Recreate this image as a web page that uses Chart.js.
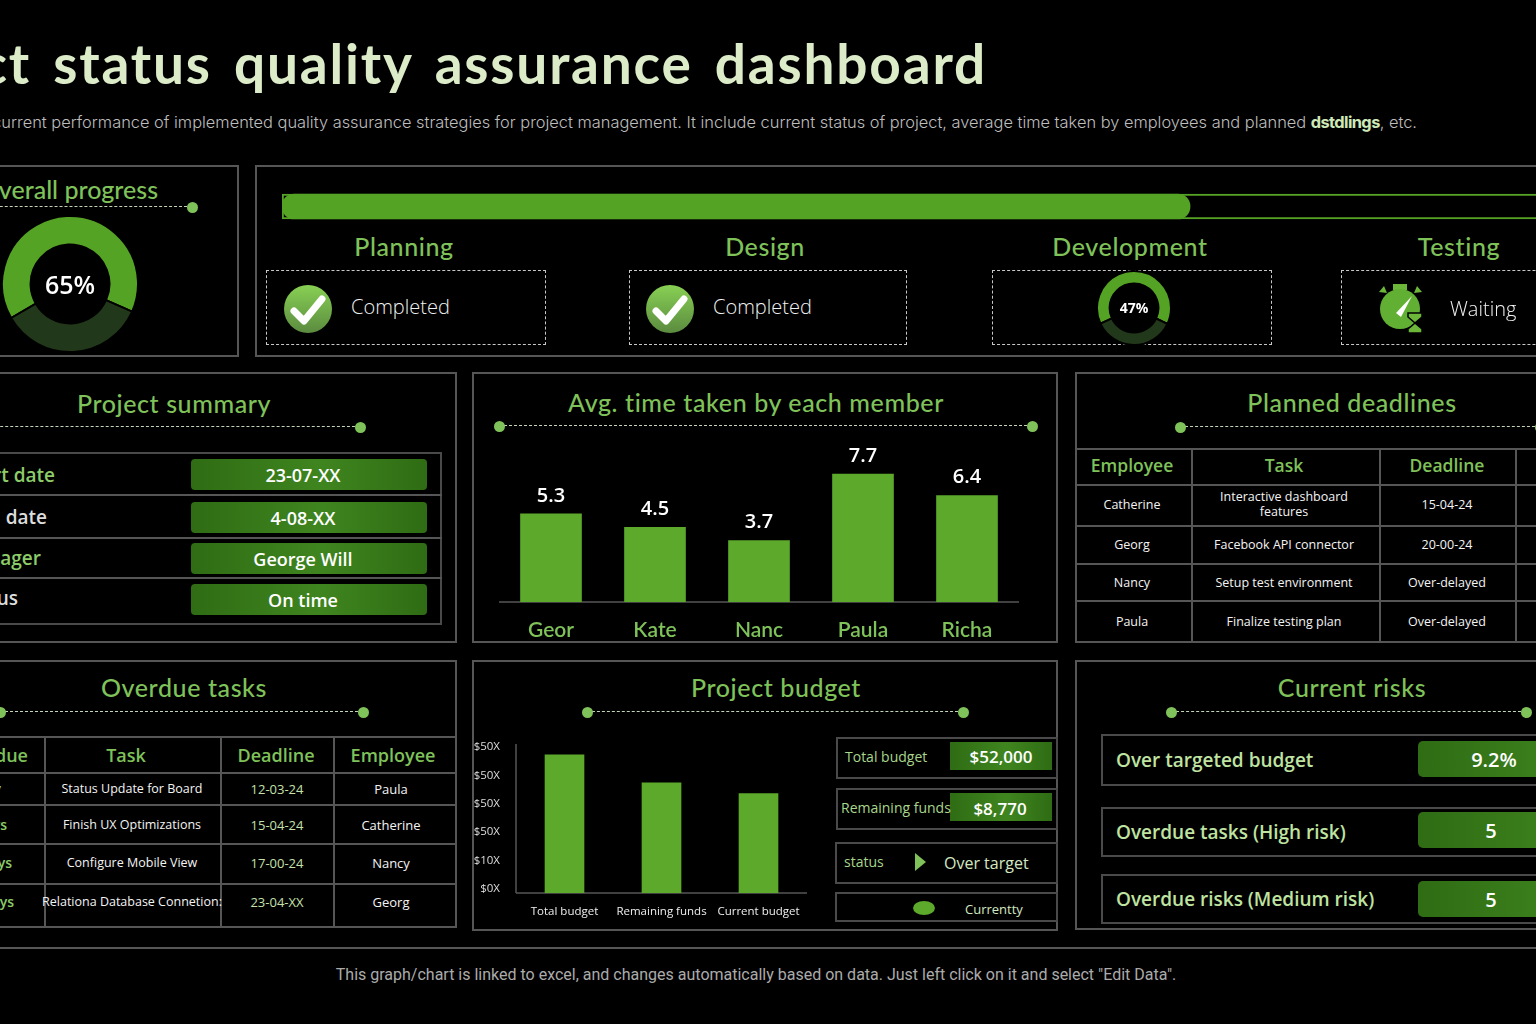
<!DOCTYPE html>
<html>
<head>
<meta charset="utf-8">
<title>Project status quality assurance dashboard</title>
<script src="https://cdn.jsdelivr.net/npm/chart.js@4/dist/chart.umd.js"></script>
<style>
    html, body { margin: 0; padding: 0; background: #000; }
    #page { position: relative; width: 1536px; height: 1024px; overflow: hidden; background: #000; font-family: "Open Sans", sans-serif; }
    #page div, #page svg, #page canvas { position: absolute; }
    .panel { border: 2px solid #565656; box-sizing: border-box; }
    .thin { border: 2px solid #4a4a4a; box-sizing: border-box; }
    .dash { border: 1.5px dashed #c8c8c8; box-sizing: border-box; }
    .label { white-space: nowrap; line-height: 1; }
    .pill { background: linear-gradient(90deg, #2f6c14, #3f851f 55%, #2f6c14); }
</style>
</head>
<body>
<div id="page"></div>
<script>
// chart values
const overallArc = [65, 35];
const developmentArc = [64, 36];
const progressValue = [65];
const progressTrack = [100];
const memberNames = ['Geor', 'Kate', 'Nanc', 'Paula', 'Richa'];
const memberTimes = [5.3, 4.5, 3.7, 7.7, 6.4];
const budgetNames = ['Total budget', 'Remaining funds', 'Current budget'];
const budgetValues = [48.6, 38.8, 35.0];
const budgetTicks = ['$0X', '$10X', '$50X', '$50X', '$50X', '$50X'];

// table text
const summaryLabels = ['Start date', 'End date', 'Manager', 'Status'];
const summaryValues = ['23-07-XX', '4-08-XX', 'George Will', 'On time'];
const deadlineHeaders = ['Employee', 'Task', 'Deadline'];
const deadlineRows = [
    ['Catherine', 'Interactive dashboard<br>features', '15-04-24'],
    ['Georg', 'Facebook API connector', '20-00-24'],
    ['Nancy', 'Setup test environment', 'Over-delayed'],
    ['Paula', 'Finalize testing plan', 'Over-delayed'],
];
const overdueHeaders = ['Days overdue', 'Task', 'Deadline', 'Employee'];
const overdueDays = ['1 day', '2 days', '3 days', '4 days'];
const overdueRows = [
    ['Status Update for Board', '12-03-24', 'Paula'],
    ['Finish UX Optimizations', '15-04-24', 'Catherine'],
    ['Configure Mobile View', '17-00-24', 'Nancy'],
    ['Relationa Database Connetion:', '23-04-XX', 'Georg'],
];
const riskLabels = ['Over targeted budget', 'Overdue tasks (High risk)', 'Overdue risks (Medium risk)'];
const riskValues = ['9.2%', '5', '5'];

const GREEN = '#7fc25a';
const BAR = '#5ca92b';
const HEAD = 'Lato, sans-serif';
const page = document.getElementById('page');

function box(cls, x, y, w, h, style) {
    const el = document.createElement('div');
    el.className = cls;
    el.style.cssText = `left:${x}px;top:${y}px;width:${w}px;height:${h}px;` + (style || '');
    page.appendChild(el);
    return el;
}

// x is the left, centre or right edge according to anchor, y is the vertical middle
function label(str, x, y, anchor, size, color, weight, font) {
    const el = document.createElement('div');
    el.className = 'label';
    const shift = { l: '0', c: '-50%', r: '-100%' }[anchor];
    el.style.cssText = `left:${x}px;top:${y}px;transform:translate(${shift},-50%);font-size:${size}px;color:${color};`
        + `font-weight:${weight || 400};font-family:${font || '"Open Sans", sans-serif'};`;
    el.innerHTML = str;
    page.appendChild(el);
    return el;
}

function heading(str, cx, y) {
    label(str, cx, y, 'c', 25, GREEN, 500, HEAD).style.letterSpacing = '0.6px';
}

function dotted(x1, x2, y) {
    box('', x1, y - 1, x2 - x1, 0, 'border-top:1.5px dashed #c4d4b8;');
    box('', x1 - 5.5, y - 5.5, 11, 11, `border-radius:50%;background:${GREEN};`);
    box('', x2 - 5.5, y - 5.5, 11, 11, `border-radius:50%;background:${GREEN};`);
}

function line(x, y, w, h) {
    box('', x, y, w, h, 'background:#565656;');
}

function canvasAt(x, y, w, h) {
    const c = document.createElement('canvas');
    c.width = w;
    c.height = h;
    c.style.cssText = `left:${x}px;top:${y}px;width:${w}px;height:${h}px;`;
    page.appendChild(c);
    return c;
}

function svgAt(x, y, w, h, inner) {
    const wrap = document.createElement('div');
    wrap.style.cssText = `left:${x}px;top:${y}px;width:${w}px;height:${h}px;`;
    wrap.innerHTML = `<svg width="${w}" height="${h}" viewBox="0 0 ${w} ${h}" style="left:0;top:0">${inner}</svg>`;
    page.appendChild(wrap);
}

Chart.defaults.animation = false;
Chart.defaults.responsive = false;
Chart.defaults.plugins.legend.display = false;
Chart.defaults.plugins.tooltip.enabled = false;

// numbers above the bars
const barValues = {
    id: 'barValues',
    afterDatasetsDraw(chart, args, opts) {
        if (!opts.show) return;
        const ctx = chart.ctx;
        ctx.save();
        ctx.fillStyle = '#fff';
        ctx.font = '600 20px "Open Sans"';
        ctx.textAlign = 'center';
        ctx.textBaseline = 'bottom';
        chart.getDatasetMeta(0).data.forEach((bar, i) => {
            ctx.fillText(chart.data.datasets[0].data[i].toFixed(1), bar.x, bar.y - 8);
        });
        ctx.restore();
    }
};

// axis lines run a bit past the plot area in the reference
const axisLines = {
    id: 'axisLines',
    beforeDatasetsDraw(chart, args, opts) {
        const { ctx, chartArea: a } = chart;
        ctx.save();
        ctx.strokeStyle = '#565656';
        ctx.lineWidth = 1.5;
        ctx.beginPath();
        ctx.moveTo(a.left - opts.left, a.bottom);
        ctx.lineTo(a.right + opts.right, a.bottom);
        if (opts.top) {
            ctx.moveTo(a.left, a.bottom);
            ctx.lineTo(a.left, a.top - opts.top);
        }
        ctx.stroke();
        ctx.restore();
    }
};

function drawDonut(x, y, size, values, cutout, rotation) {
    new Chart(canvasAt(x, y, size, size), {
        type: 'doughnut',
        data: {
            datasets: [{
                data: values,
                backgroundColor: ['#55a324', '#22381a'],
                borderColor: '#000',
                borderWidth: 2,
            }]
        },
        options: { cutout: cutout, rotation: rotation, layout: { padding: 0 } }
    });
}

// title and subtitle
label('Project status quality assurance dashboard', 987, 63, 'r', 55, '#dcecc8', 700, HEAD).style.cssText += 'letter-spacing:1.8px;word-spacing:7px;';
label('This slide shows current performance of implemented quality assurance strategies for project management. It include current status of project, average time taken by employees and planned <b style="color:#cfe8b8;font-weight:700;letter-spacing:-0.6px">dstdlings</b>, etc.',
    1417, 122, 'r', 16.4, '#bdbdbd', 300, 'Inter, sans-serif');

// overall progress
box('panel', -20, 165, 259, 192);
label('Overall progress', 158, 189, 'r', 25, GREEN, 500, HEAD);
dotted(-60, 192, 207);
box('', 187, 202, 0, 0);
drawDonut(1, 215, 138, overallArc, '58%', -120);
label('65%', 70, 284, 'c', 25, '#fff', 600);

// stage strip
box('panel', 255, 165, 1400, 192);
new Chart(canvasAt(282, 190, 1397, 33), {
    type: 'bar',
    data: {
        labels: ['Progress'],
        datasets: [
            { data: progressValue, backgroundColor: '#55a324', barThickness: 25, borderRadius: 12.5, borderSkipped: false, order: 0 },
            { data: progressTrack, backgroundColor: 'transparent', borderColor: '#55a324', borderWidth: 1.5, barThickness: 25, borderSkipped: false, order: 1 },
        ]
    },
    options: {
        indexAxis: 'y',
        layout: { padding: 0 },
        scales: {
            x: { display: false, min: 0, max: 100, grouped: false },
            y: { display: false, stacked: true },
        },
        datasets: { bar: { grouped: false } },
    }
});
heading('Planning', 404, 246);
heading('Design', 765, 246);
heading('Development', 1130, 246);
heading('Testing', 1459, 246);
box('dash', 266, 270, 280, 75);
box('dash', 629, 270, 278, 75);
box('dash', 992, 270, 280, 75);
box('dash', 1341, 270, 260, 75);

const check = id => `<defs><linearGradient id="${id}" x1="0" y1="0" x2="0" y2="1"><stop offset="0" stop-color="#88d054"/><stop offset="1" stop-color="#5b8b3f"/></linearGradient></defs>`
    + `<circle cx="24" cy="24" r="24" fill="url(#${id})"/><path d="M10 26 L20 36 L38 14" fill="none" stroke="#fff" stroke-width="7" stroke-linecap="round" stroke-linejoin="round"/>`;
svgAt(284, 285, 48, 48, check('c1'));
svgAt(646, 285, 48, 48, check('c2'));
label('Completed', 351, 307, 'l', 20, '#f2f2f2', 300);
label('Completed', 713, 307, 'l', 20, '#f2f2f2', 300);
drawDonut(1096, 270, 76, developmentArc, '66%', -115);
label('47%', 1134, 308, 'c', 14, '#fff', 700);
svgAt(1376, 282, 50, 52, `
    <rect x="17" y="2" width="14" height="6" fill="#6cb63a"/>
    <path d="M3 10 L8 4 L11 11 Z M46 10 L41 4 L38 11 Z" fill="#6cb63a"/>
    <circle cx="24" cy="27" r="20" fill="#62b033"/>
    <path d="M20 31 L36 14 L25 35 Z" fill="#fff"/>
    <path d="M32 31 H46 V35 L39 41 L46 47 V51 H32 V47 L39 41 L32 35 Z" fill="#6cb63a" stroke="#000" stroke-width="1.5"/>`);
label('Waiting', 1450, 309, 'l', 20, '#f2f2f2', 300);

// project summary
box('panel', -20, 372, 477, 271);
heading('Project summary', 174, 403);
dotted(-40, 360, 427);
box('thin', -20, 452, 462, 173);
const summaryRowY = [475, 517, 558, 598];
const summaryLabelEnd = [55, 47, 41, 18];
const summaryLabelColor = ['#8ccc69', '#dddddd', '#8ccc69', '#dddddd'];
const summaryPillTop = [459, 502, 543, 584];
line(-20, 494, 462, 2);
line(-20, 537, 462, 2);
line(-20, 577, 462, 2);
summaryLabels.forEach((t, i) => {
    label(t, summaryLabelEnd[i], summaryRowY[i], 'r', 19, summaryLabelColor[i], 600);
    box('pill', 191, summaryPillTop[i], 236, 31, 'border-radius:4px;');
    label(summaryValues[i], 303, summaryPillTop[i] + 16, 'c', 18, '#fff', 600);
});

// avg time chart
box('panel', 472, 372, 586, 271);
heading('Avg. time taken by each member', 756, 402);
dotted(499, 1032, 426);
new Chart(canvasAt(499, 440, 520, 200), {
    type: 'bar',
    data: {
        labels: memberNames,
        datasets: [{ data: memberTimes, backgroundColor: BAR, barThickness: 61 }]
    },
    options: {
        layout: { padding: 0 },
        plugins: {
            barValues: { show: true },
            axisLines: { left: 2, right: 13 },
        },
        scales: {
            y: { display: false, min: 0, max: 9.75, grid: { display: false } },
            x: {
                afterFit(s) { s.height = 38; },
                grid: { display: false },
                border: { display: false },
                ticks: { color: GREEN, padding: 8, maxRotation: 0, font: { family: 'Lato', size: 21, weight: '600' } },
            },
        },
    },
    plugins: [barValues, axisLines],
});

// planned deadlines
box('panel', 1075, 372, 600, 271);
heading('Planned deadlines', 1352, 402);
dotted(1180, 1540, 427);
line(1075, 448, 600, 2);
[484, 525, 563, 600].forEach(y => line(1075, y, 600, 2));
[1191, 1379, 1515].forEach(x => line(x, 448, 2, 195));
const deadlineColX = [1132, 1284, 1447];
const deadlineRowY = [504, 544, 582, 621];
deadlineHeaders.forEach((t, i) => label(t, deadlineColX[i], 466, 'c', 17.5, GREEN, 600));
deadlineRows.forEach((row, r) => {
    row.forEach((t, c) => {
        const el = label(t, deadlineColX[c], deadlineRowY[r], 'c', 12.5, '#f4f4f4', 400);
        el.style.textAlign = 'center';
        el.style.lineHeight = '15px';
    });
});

// overdue tasks
box('panel', -20, 660, 477, 268);
heading('Overdue tasks', 184, 687);
dotted(0, 363, 712);
line(-20, 736, 477, 2);
[772, 804, 843, 883].forEach(y => line(-20, y, 477, 2));
[44, 220, 333].forEach(x => line(x, 736, 2, 191));
const overdueColX = [132, 277, 391];
const overdueRowY = [789, 825, 863, 902];
const overdueDaysEnd = [1, 7, 12, 14];
label(overdueHeaders[0], 28, 755, 'r', 18, GREEN, 600);
overdueHeaders.slice(1).forEach((t, i) => label(t, [126, 276, 393][i], 755, 'c', 18, GREEN, 600));
overdueRows.forEach((row, r) => {
    label(overdueDays[r], overdueDaysEnd[r], overdueRowY[r], 'r', 14, '#8ccc69', 600);
    label(row[0], overdueColX[0], overdueRowY[r], 'c', 12.5, '#f4f4f4', 400);
    label(row[1], overdueColX[1], overdueRowY[r], 'c', 13, '#c5e0ab', 400);
    label(row[2], overdueColX[2], overdueRowY[r], 'c', 13, '#f4f4f4', 400);
});

// project budget
box('panel', 472, 660, 586, 271);
heading('Project budget', 776, 687);
dotted(587, 963, 712);
new Chart(canvasAt(470, 736, 337, 182), {
    type: 'bar',
    data: {
        labels: budgetNames,
        datasets: [{ data: budgetValues, backgroundColor: BAR, barThickness: 39 }]
    },
    options: {
        layout: { padding: { top: 10 } },
        plugins: { axisLines: { left: 0, right: 10, top: 7 } },
        scales: {
            y: {
                min: 0,
                max: 50,
                afterFit(s) { s.width = 46; },
                grid: { display: false },
                border: { display: false },
                ticks: {
                    stepSize: 10,
                    padding: 8,
                    labelOffset: -4,
                    color: '#dddddd',
                    font: { family: 'Open Sans', size: 11.5 },
                    callback: (v, i) => budgetTicks[i],
                },
            },
            x: {
                afterFit(s) { s.height = 25; },
                grid: { display: false },
                border: { display: false },
                ticks: { color: '#eeeeee', padding: 4, maxRotation: 0, font: { family: 'Open Sans', size: 11.5 } },
            },
        },
    },
    plugins: [axisLines],
});
box('thin', 836, 737, 222, 42);
box('thin', 836, 788, 222, 42);
box('thin', 835, 842, 223, 42);
box('thin', 835, 892, 223, 30);
box('pill', 950, 742, 102, 28);
box('pill', 950, 793, 102, 28);
label('Total budget', 845, 757, 'l', 14, '#a8d68c');
label('Remaining funds', 841, 808, 'l', 14, '#a8d68c');
label('$52,000', 1001, 756, 'c', 17, '#fff', 600);
label('$8,770', 1000, 808, 'c', 17, '#fff', 600);
label('status', 844, 862, 'l', 14, '#a8d68c');
svgAt(914, 852, 13, 20, '<path d="M1 1 L12 10 L1 19 Z" fill="#7fc25a"/>');
label('Over target', 944, 863, 'l', 16, '#d4e8c0');
box('', 913, 901, 22, 14, `border-radius:50%;background:${BAR};`);
label('Currentty', 965, 909, 'l', 13, '#d4e8c0');

// current risks
box('panel', 1075, 660, 600, 270);
heading('Current risks', 1352, 687);
dotted(1171, 1526, 712);
const riskBoxTop = [734, 807, 874];
const riskBoxHeight = [52, 50, 50];
const riskPillTop = [741, 812, 881];
const riskValueX = [1494, 1491, 1491];
riskLabels.forEach((t, i) => {
    box('thin', 1101, riskBoxTop[i], 600, riskBoxHeight[i]);
    label(t, 1116, riskBoxTop[i] + riskBoxHeight[i] / 2, 'l', 19, '#bfe3a0', 600);
    box('pill', 1418, riskPillTop[i], 300, 36, 'border-radius:5px;');
    label(riskValues[i], riskValueX[i], riskPillTop[i] + 19, 'c', 20, '#fff', 600);
});

// footer
line(0, 947, 1536, 2);
label('This graph/chart is linked to excel, and changes automatically based on data. Just left click on it and select "Edit Data".',
    756, 975, 'c', 16, '#ababab', 400, 'Roboto, sans-serif');
</script>
</body>
</html>
